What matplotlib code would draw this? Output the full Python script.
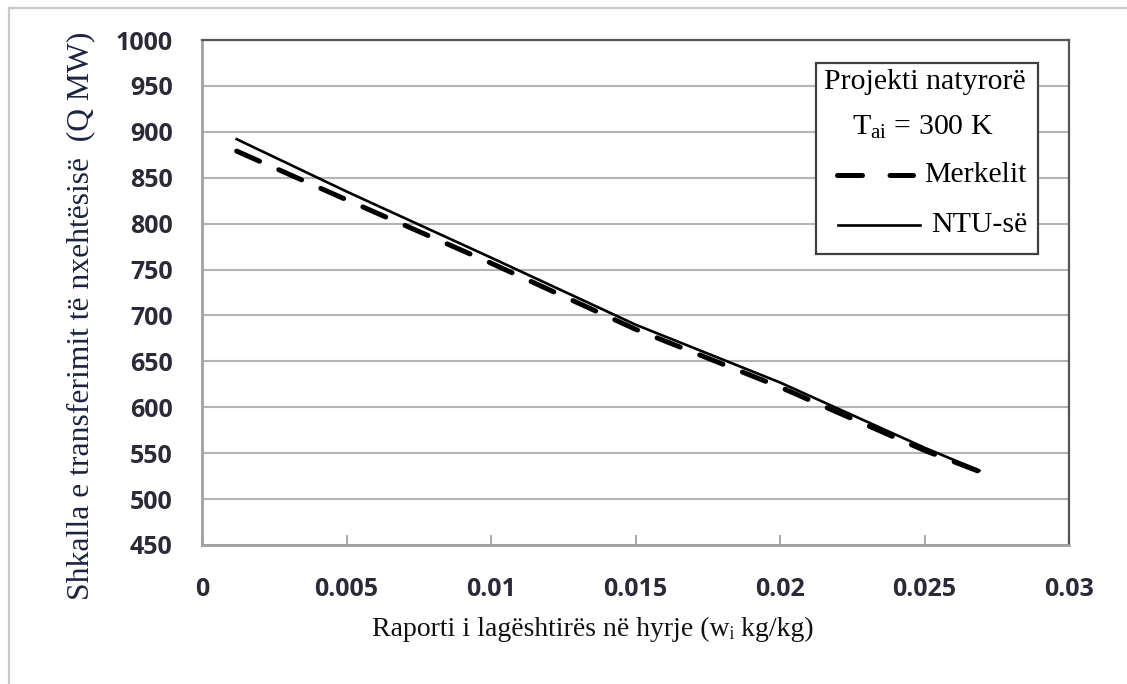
import matplotlib
matplotlib.use("Agg")
import matplotlib.pyplot as plt
from matplotlib.lines import Line2D
from matplotlib.patches import Rectangle

# Inlet humidity ratio (kg/kg) and heat transfer rate (MW)
humidity = [0.0012, 0.005, 0.010, 0.015, 0.020, 0.025, 0.0269]
q_merkel = [879, 826, 757, 685, 622, 553, 530]
q_ntu = [892, 835, 763, 690, 627, 556, 531]

x_ticks = [0, 0.005, 0.01, 0.015, 0.02, 0.025, 0.03]
x_tick_labels = ["0", "0.005", "0.01", "0.015", "0.02", "0.025", "0.03"]
y_ticks = list(range(450, 1001, 50))

serif = "Liberation Serif"
plt.rcParams["mathtext.fontset"] = "custom"
plt.rcParams["mathtext.rm"] = serif
plt.rcParams["mathtext.it"] = serif

fig = plt.figure(figsize=(11.27, 6.84), dpi=100)
fig.patch.set_facecolor("white")

# outer frame (left and top edges)
fig.add_artist(Line2D([9 / 1127, 9 / 1127], [0, 1 - 8 / 684],
                      transform=fig.transFigure, color="#c8c8c8", lw=1.6))
fig.add_artist(Line2D([9 / 1127, 1], [1 - 8 / 684, 1 - 8 / 684],
                      transform=fig.transFigure, color="#c8c8c8", lw=1.6))

ax = fig.add_axes([202 / 1127, 1 - 545 / 684, 867 / 1127, 505 / 684])
ax.set_xlim(0, 0.03)
ax.set_ylim(450, 1000)

ax.set_yticks(y_ticks)
ax.set_xticks(x_ticks)
ax.set_xticklabels(x_tick_labels)
ax.yaxis.grid(True, color="#b4b4b4", lw=1.5)
ax.set_axisbelow(True)

for lab in ax.get_xticklabels() + ax.get_yticklabels():
    lab.set_fontfamily("Open Sans")
    lab.set_fontweight("bold")
    lab.set_fontsize(18)
    lab.set_color("#2a2a38")
ax.tick_params(axis="y", length=0, pad=21)
ax.tick_params(axis="x", direction="in", length=7, width=1.3, color="#a0a0a0", pad=23)

for side in ("left", "bottom"):
    ax.spines[side].set_color("#a0a0a0")
    ax.spines[side].set_linewidth(2.0)
for side in ("top", "right"):
    ax.spines[side].set_color("#555555")
    ax.spines[side].set_linewidth(1.6)

ax.plot(humidity, q_merkel, color="black", lw=3.6, linestyle=(0, (5.0, 4.2)),
        solid_capstyle="round", dash_capstyle="round", zorder=3)
ax.plot(humidity, q_ntu, color="black", lw=1.9, zorder=4)

ax.set_xlabel("Raporti i lagështirës në hyrje (wᵢ kg/kg)", family=serif,
              fontsize=20, color="#111111")
ax.xaxis.set_label_coords(0.451, -0.142)
ax.set_ylabel("Shkalla e transferimit të nxehtësisë  (Q MW)", family=serif,
              fontsize=22.8, color="#1a2440")
ax.yaxis.set_label_coords(-0.123, 0.453)

# legend panel
box = Rectangle((0.708, 0.576), 0.256, 0.378, transform=ax.transAxes,
                facecolor="white", edgecolor="#404040", lw=1.6, zorder=5)
ax.add_patch(box)
txt = dict(transform=ax.transAxes, family=serif, fontsize=21.5, color="black",
           va="center", zorder=6)
ax.text(0.834, 0.917, "Projekti natyrorë", ha="center", **txt)
ax.text(0.831, 0.826, r"T$_{\mathrm{ai}}$ = 300 K", ha="center", **txt)
ax.add_line(Line2D([0.732, 0.820], [0.733, 0.733], transform=ax.transAxes,
                   color="black", lw=3.6, linestyle=(0, (5.0, 5.5)),
                   dash_capstyle="round", zorder=6))
ax.text(0.833, 0.733, "Merkelit", ha="left", **txt)
ax.add_line(Line2D([0.734, 0.828], [0.634, 0.634], transform=ax.transAxes,
                   color="black", lw=1.9, zorder=6))
ax.text(0.841, 0.634, "NTU-së", ha="left", **txt)

fig.savefig("out.png", dpi=100, facecolor="white")
